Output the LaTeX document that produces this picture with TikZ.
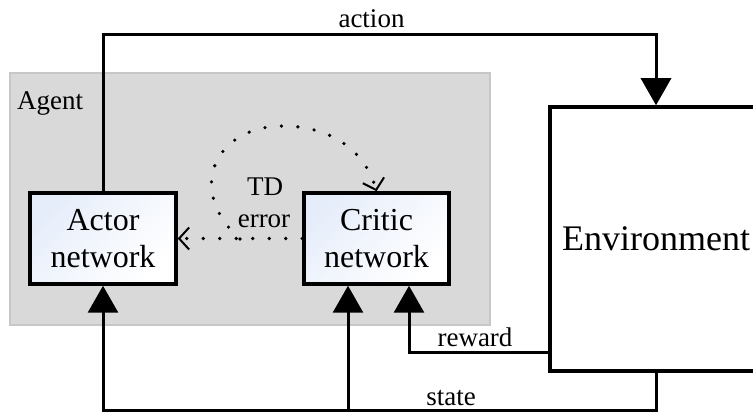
\documentclass[tikz,border=0pt]{standalone}
\usepackage{fontspec}
\setmainfont{Liberation Serif}
\usetikzlibrary{
    arrows.meta,
    calc,
    positioning
}
\definecolor{netfill}{RGB}{230,237,250}

\begin{document}
\begin{tikzpicture}[x=1pt, y=-1pt,
    block/.style={draw, line width=3.5pt, align=center, inner sep=0pt,
        minimum width=146pt, minimum height=91pt,
        font=\fontsize{32}{37}\selectfont,
        top color=netfill, bottom color=white, shading angle=45},
    envbox/.style={draw, line width=3.5pt, fill=white, inner sep=0pt,
        minimum width=212pt, minimum height=264pt,
        font=\fontsize{36}{40}\selectfont},
    agentbox/.style={draw=black!22, fill=black!15, line width=1.5pt,
        minimum width=480pt, minimum height=252pt},
    lbl/.style={font=\fontsize{27}{30}\selectfont, anchor=base, inner sep=0pt},
    sig/.style={line width=3pt, -{Triangle[length=27pt, width=30pt]}},
    tdline/.style={line width=3.6pt, line cap=round, dash pattern=on 0pt off 16.5pt,
        -{Straight Barb[length=10pt, width=22pt, line width=2pt]}}
]
    \clip (0,0) rectangle (753,414);

    \node[agentbox] (agent) at (250,199) {};
    \node[lbl, anchor=base west] (agentlbl) at (17,110) {Agent};

    \node[block] (actor) at (103,238.5) {Actor\\network};
    \node[block, minimum width=145pt] (critic) at (376.5,238.5) {Critic\\network};
    \node[envbox] (env) at (656,239) {Environment};

    \coordinate (actline) at (0,35);
    \coordinate (stline) at (0,410);
    \coordinate (stbranch) at (348,410);
    \coordinate (rwturn) at (409,352);
    \coordinate (tdfork) at (240,239);
    \coordinate (tdtop) at (283,126);

    % action, state and reward
    \draw[sig] (actor.north) -- (actor.north |- actline) -| (env.north);
    \draw[sig] (env.south) -- (env.south |- stline) -| (actor.south);
    \draw[sig] (stbranch) -- (stbranch |- critic.south);
    \draw[sig] (env.west |- rwturn) -- (rwturn) -- (rwturn |- critic.south);

    % TD error
    \draw[tdline] (critic.west) -- (actor.east);
    \draw[tdline] (tdfork) .. controls (185,190) and (215,126) .. (tdtop)
        .. controls (330,126) and (365,150) .. (critic.north);

    \node[lbl] (actlbl) at (371.5,28) {action};
    \node[lbl] (rwlbl) at (475,347) {reward};
    \node[lbl] (stlbl) at (451,405) {state};
    \node[lbl] (tdlbl) at (265,196) {TD};
    \node[lbl] (errlbl) at (264,228) {error};
\end{tikzpicture}
\end{document}
